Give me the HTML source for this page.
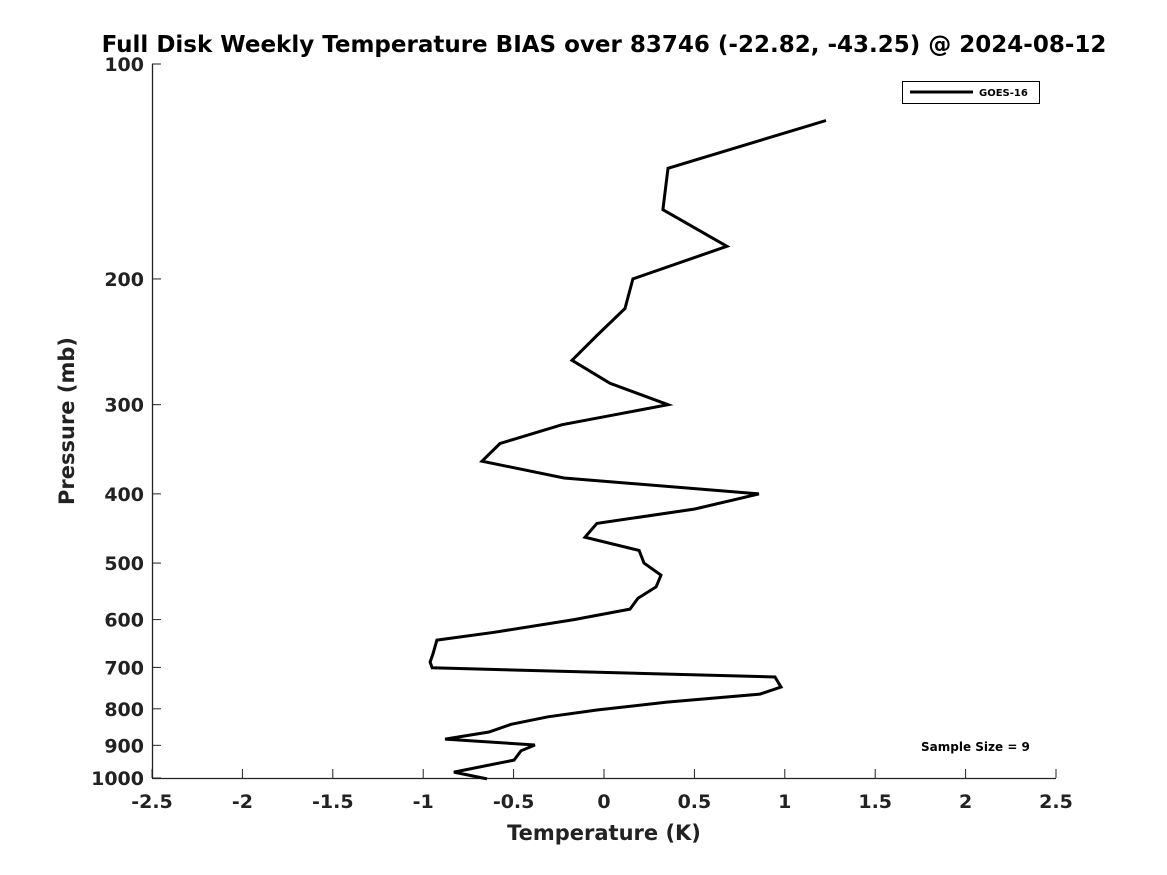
<!DOCTYPE html>
<html><head><meta charset="utf-8"><style>
html,body{margin:0;padding:0;background:#fff;}
svg{display:block;font-family:"DejaVu Sans","Liberation Sans",sans-serif;font-weight:bold;}
</style></head><body>
<svg id="chart" width="1167" height="875" viewBox="0 0 1167 875">
<rect width="1167" height="875" fill="#fff"/>
<text x="604" y="52" text-anchor="middle" font-size="23" fill="#000">Full Disk Weekly Temperature BIAS over 83746 (-22.82, -43.25) @ 2024-08-12</text>
<g id="axes"></g>
<path id="line" fill="none" stroke="#000" stroke-width="3" stroke-linejoin="miter"/>
<g>
<rect x="902.5" y="81.5" width="137" height="22" fill="#fff" stroke="#000" stroke-width="1"/>
<line x1="910" y1="92" x2="973" y2="92" stroke="#000" stroke-width="3"/>
<text x="979" y="96" font-size="10">GOES-16</text>
</g>
<text x="921" y="751" font-size="12">Sample Size = 9</text>
<text x="604" y="840" text-anchor="middle" font-size="21" fill="#222">Temperature (K)</text>
<text transform="translate(74,421) rotate(-90)" text-anchor="middle" font-size="21" fill="#222">Pressure (mb)</text>
</svg>
<script>
const temps=[1.228,0.354,0.326,0.680,0.160,0.116,-0.039,-0.177,0.033,0.354,-0.232,-0.575,-0.675,-0.221,0.857,0.503,-0.039,-0.105,0.194,0.221,0.315,0.288,0.188,0.144,-0.166,-0.608,-0.924,-0.946,-0.962,-0.951,0.946,0.979,0.863,0.348,-0.039,-0.310,-0.514,-0.636,-0.879,-0.382,-0.459,-0.498,-0.830,-0.647];
const pressures=[120,140,160,180,200,220,240,260,280,300,320,340,360,380,400,420,440,460,480,500,520,540,560,580,600,625,641,670,688,701,722,746,763,783,803,821,841,862,882,899,916,944,981,1003];
const xTicks=[-2.5,-2,-1.5,-1,-0.5,0,0.5,1,1.5,2,2.5];
const xTickLabels=["-2.5","-2","-1.5","-1","-0.5","0","0.5","1","1.5","2","2.5"];
const yTicks=[100,200,300,400,500,600,700,800,900,1000];
const yTickLabels=["100","200","300","400","500","600","700","800","900","1000"];
const X0=152,X1=1056,Y0=64,Y1=778;
const xs=v=>X0+(v+2.5)/5*(X1-X0);
const ys=p=>Y0+(Math.log10(p)-2)*(Y1-Y0);
const NS="http://www.w3.org/2000/svg";
const ax=document.getElementById('axes');
function mk(t,a){const e=document.createElementNS(NS,t);for(const k in a)e.setAttribute(k,a[k]);return e;}
const xl=mk('line',{x1:X0,y1:Y1+0.5,x2:X1,y2:Y1+0.5,stroke:'#222','stroke-width':1.3});


ax.appendChild(xl);
const yl=mk('line',{x1:X0+0.5,y1:Y0,x2:X0+0.5,y2:Y1,stroke:'#222','stroke-width':1.3});


ax.appendChild(yl);
xTicks.forEach((v,i)=>{const x=xs(v);
const t=mk('line',{x1:x,y1:Y1,x2:x,y2:Y1-9,stroke:'#222','stroke-width':1});


ax.appendChild(t);
const l=mk('text',{x:x,y:808,'text-anchor':'middle','font-size':19,fill:'#222'});l.textContent=xTickLabels[i];


ax.appendChild(l);});
yTicks.forEach((p,i)=>{const y=ys(p);
const t=mk('line',{x1:X0,y1:y,x2:X0+9,y2:y,stroke:'#222','stroke-width':1});


ax.appendChild(t);
const l=mk('text',{x:144,y:y+7,'text-anchor':'end','font-size':19,fill:'#222'});l.textContent=yTickLabels[i];


ax.appendChild(l);});
document.getElementById('line').setAttribute('d',temps.map((t,i)=>(i?'L':'M')+xs(t).toFixed(1)+','+ys(pressures[i]).toFixed(1)).join(''));
</script>
</body></html>
